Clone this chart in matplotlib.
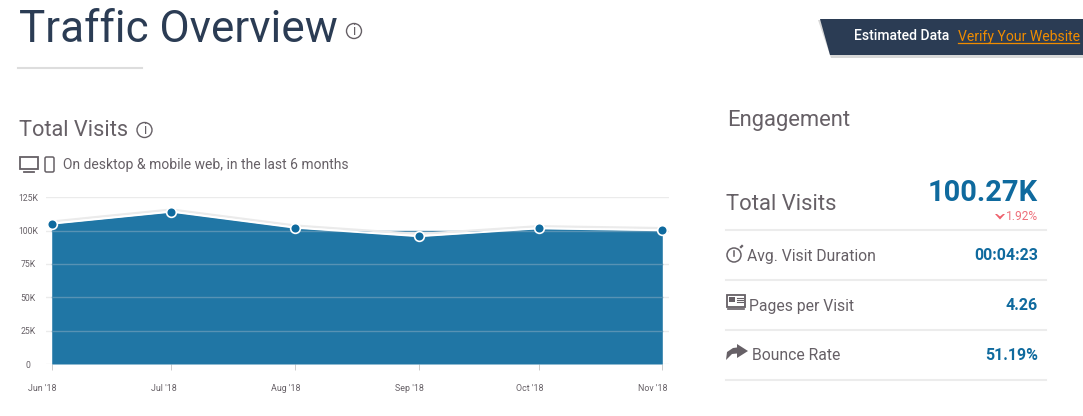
import matplotlib
matplotlib.use('Agg')
import matplotlib.pyplot as plt
import matplotlib.dates as mdates
from matplotlib.patches import Circle, Polygon, Rectangle, FancyBboxPatch
from matplotlib.transforms import ScaledTranslation
from datetime import datetime

plt.rcParams['font.family'] = ['Roboto', 'DejaVu Sans']

months = [datetime(2018, 6, 1), datetime(2018, 7, 1), datetime(2018, 8, 1),
          datetime(2018, 9, 1), datetime(2018, 10, 1), datetime(2018, 11, 1)]
month_labels = ["Jun '18", "Jul '18", "Aug '18", "Sep '18", "Oct '18", "Nov '18"]
visits = [105200, 114200, 102200, 95800, 101700, 100270]
y_ticks = [0, 25000, 50000, 75000, 100000, 125000]
y_labels = ['0', '25K', '50K', '75K', '100K', '125K']

metric_names = ['Avg. Visit Duration', 'Pages per Visit', 'Bounce Rate']
metric_values = ['00:04:23', '4.26', '51.19%']

W, H = 1083, 416
GREY = '#666066'
NAVY = '#2b3c54'
BLUE = '#0f6a9e'
FILL = '#2076a5'

fig = plt.figure(figsize=(W / 100, H / 100), dpi=100)

# page layer in pixel coordinates
bg = fig.add_axes([0, 0, 1, 1])
bg.set_xlim(0, W)
bg.set_ylim(H, 0)
bg.axis('off')


def label(x, y, s, px, color=GREY, ha='left', weight='normal'):
    return bg.text(x, y, s, fontsize=px * 0.72, color=color, ha=ha, va='center', fontweight=weight)


def info_icon(x, y, r):
    bg.add_patch(Circle((x, y), r, fill=False, ec=GREY, lw=1))
    bg.text(x, y + 0.3, 'i', fontsize=r * 1.3, color=GREY, ha='center', va='center')


# header
label(19, 30, 'Traffic Overview', 44, color=NAVY)
info_icon(354, 31, 7.5)
bg.plot([18, 142], [67.5, 67.5], color='#dddddd', lw=1.5)

# banner
bg.add_patch(Polygon([[818, 20], [1083, 20], [1083, 58], [831, 58]], fc='#d8d8d8', ec='none'))
bg.add_patch(Polygon([[820, 19], [1083, 19], [1083, 55], [830, 55]], fc=NAVY, ec='none'))
label(854, 36.5, 'Estimated Data', 14, color='white', weight='medium')
label(958, 36.5, 'Verify Your Website', 14, color='#f08c00')
bg.plot([958, 1079], [42.5, 42.5], color='#f08c00', lw=0.9)

# chart heading
label(19, 130.5, 'Total Visits', 21.8)
info_icon(144.5, 130, 7.5)
bg.add_patch(Rectangle((20, 157), 18, 12, fill=False, ec=GREY, lw=1.3))
bg.plot([24, 34], [172, 172], color=GREY, lw=1.3)
bg.add_patch(FancyBboxPatch((45, 157), 9, 15, boxstyle='round,pad=0,rounding_size=1.5',
                            fill=False, ec=GREY, lw=1.1))
label(63, 164.5, 'On desktop & mobile web, in the last 6 months', 13.9)

# engagement panel
label(727, 120.5, 'Engagement', 22)
label(726, 205, 'Total Visits', 22)
label(1038, 193, '100.27K', 29, color=BLUE, ha='right', weight='bold')
bg.add_patch(Polygon([[995, 214], [997, 214], [1000, 216.5], [1003, 214], [1005, 214],
                      [1000, 219.5]], fc='#ee5f6b', ec='none'))
label(1038, 216, '1.92%', 12, color='#ee6f7a', ha='right')
for y in [230, 280, 329.5, 380]:
    bg.plot([726, 1046], [y, y], color='#ececec', lw=1.5)

metric_x = [747, 749, 752]
metric_y = [256, 306, 355]
value_y = [255, 305, 355]
for name, val, x, y, vy in zip(metric_names, metric_values, metric_x, metric_y, value_y):
    label(x, y, name, 15.8)
    label(1038, vy, val, 16, color=BLUE, ha='right', weight='bold')

# stopwatch
bg.add_patch(Circle((734, 255), 7, fill=False, ec=GREY, lw=1.1))
bg.plot([734, 734], [250.5, 255.5], color=GREY, lw=1.1)
bg.plot([741, 742], [247, 246], color=GREY, lw=1.6)
# newspaper
bg.add_patch(Rectangle((727, 295), 18, 12, fill=False, ec=GREY, lw=1.3))
bg.add_patch(Rectangle((729, 297), 6, 5, fc=GREY, ec='none'))
for yy in [298, 300, 302]:
    bg.plot([737, 743], [yy, yy], color=GREY, lw=0.8)
bg.plot([728, 744], [309, 309], color=GREY, lw=1.2)
# share arrow
bg.add_patch(Polygon([[726, 360], [727, 352], [733, 348], [737, 347.5], [737, 344],
                      [748, 351], [737, 358], [737, 353.5], [732, 354]], fc=GREY, ec='none'))

# chart
left, right, top, bottom = 46, 669, 197.3, 364
ax = fig.add_axes([left / W, 1 - bottom / H, (right - left) / W, (bottom - top) / H])
ax.patch.set_alpha(0)
x_min = mdates.num2date(mdates.date2num(months[0]) - 5.7 * 30 / 119.3)
x_max = mdates.num2date(mdates.date2num(months[-1]) + 6.7 * 31 / 123.6)
ax.set_xlim(x_min, x_max)
ax.set_ylim(0, 125000)
for s in ax.spines.values():
    s.set_visible(False)

ax.yaxis.grid(True, color='#ebebeb', lw=1, zorder=1)
ax.set_axisbelow(True)
ax.fill_between(months, visits, 0, color=FILL, lw=0, zorder=2)
for t in y_ticks[1:-1]:
    ax.plot(months, [t] * len(months), color='#5792b4', lw=1, zorder=3)

up = ScaledTranslation(0, 2.2 / 100, fig.dpi_scale_trans)
ax.plot(months, visits, color='#ebebeb', lw=1.6, zorder=4, transform=ax.transData + up)
ax.plot(months, visits, color='white', lw=1.4, zorder=5)
ax.plot(months, visits, ls='none', marker='o', ms=7, mfc=BLUE, mec='white', mew=1.2, zorder=6,
        clip_on=False)

ax.set_yticks(y_ticks)
ax.set_yticklabels(y_labels, fontsize=6.2, color=GREY, ha='center')
ax.tick_params(axis='y', length=0, pad=13)
ax.set_xticks(months)
ax.set_xticklabels(month_labels, fontsize=6.4, color=GREY, ha='right')
ax.tick_params(axis='x', length=4.5, width=0.7, color='#cccccc', pad=10)
shift = ScaledTranslation(5 / 100, 0, fig.dpi_scale_trans)
for lab in ax.get_xticklabels():
    lab.set_transform(lab.get_transform() + shift)

fig.savefig('out.png', dpi=100)
